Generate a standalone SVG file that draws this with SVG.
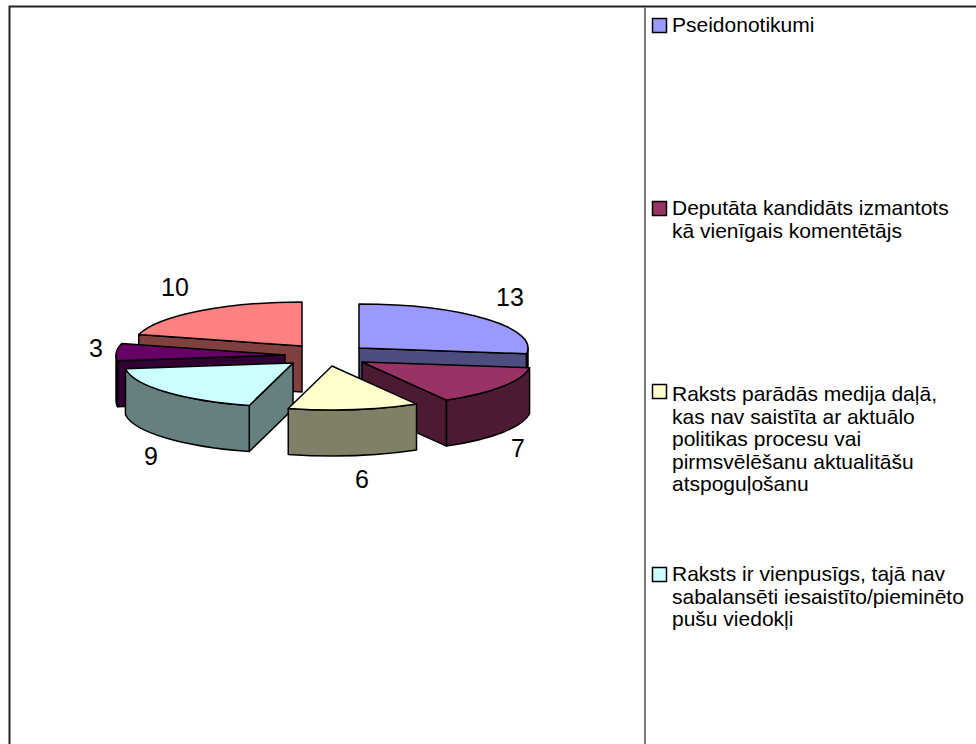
<svg xmlns="http://www.w3.org/2000/svg" width="976" height="744" viewBox="0 0 976 744">
<style>
  .edge{stroke:#000;stroke-width:1.5;stroke-linejoin:round}
  .lbl{font-family:"Liberation Sans",Arial,sans-serif;font-size:25px;fill:#000}
  .leg{font-family:"Liberation Sans",Arial,sans-serif;font-size:21px;fill:#000}
  .sw{stroke:#000;stroke-width:1.5}
</style>
<rect x="0" y="0" width="976" height="744" fill="#fff"/>
<g id="frame">
  <path d="M9.5,744 L9.5,6.5 L976,6.5" fill="none" stroke="#222" stroke-width="2"/>
  <line x1="645" y1="7" x2="645" y2="744" stroke="#777" stroke-width="2"/>
</g>
<g id="pie">
  <g id="slice-salmon">
    <path class="edge" fill="#804040" d="M302,346 L138.76,334.61 L138.76,380.61 L302,392 Z"/>
    <path class="edge" fill="#FF8080" d="M302,346 L138.76,334.61 A169,44 0 0 1 302,302 Z"/>
  </g>
  <g id="slice-blue">
    <path class="edge" fill="#4D4D80" d="M359,348 L526.55,353.74 L526.55,399.74 L359,394 Z"/>
    <path class="edge" fill="#4D4D80" d="M528,348 A169,44 0 0 1 526.55,353.74 L526.55,399.74 A169,44 0 0 0 528,394 Z"/>
    <path class="edge" fill="#9999FF" d="M359,348 L359,304 A169,44 0 0 1 526.55,353.74 Z"/>
  </g>
  <g id="slice-purple">
    <path class="edge" fill="#330033" d="M285,355 L117.45,360.74 L117.45,406.74 L285,401 Z"/>
    <path class="edge" fill="#330033" d="M117.45,360.74 A169,44 0 0 1 116,355 L116,401 A169,44 0 0 0 117.45,406.74 Z"/>
    <path class="edge" fill="#660066" d="M285,355 L117.45,360.74 A169,44 0 0 1 121.76,343.61 Z"/>
  </g>
  <g id="slice-cyan">
    <path class="edge" fill="#668080" d="M293,363 L249.26,405.5 L249.26,451.5 L293,409 Z"/>
    <path class="edge" fill="#668080" d="M249.26,405.5 A169,44 0 0 1 125.45,368.74 L125.45,414.74 A169,44 0 0 0 249.26,451.5 Z"/>
    <path class="edge" fill="#CCFFFF" d="M293,363 L249.26,405.5 A169,44 0 0 1 125.45,368.74 Z"/>
  </g>
  <g id="slice-maroon">
    <path class="edge" fill="#4D1A33" d="M362,362 L446.5,400.11 L446.5,446.11 L362,408 Z"/>
    <path class="edge" fill="#4D1A33" d="M529.55,367.74 A169,44 0 0 1 446.5,400.11 L446.5,446.11 A169,44 0 0 0 529.55,413.74 Z"/>
    <path class="edge" fill="#993366" d="M362,362 L529.55,367.74 A169,44 0 0 1 446.5,400.11 Z"/>
  </g>
  <g id="slice-yellow">
    <path class="edge" fill="#808066" d="M416.5,404.11 A169,44 0 0 1 288.26,408.5 L288.26,454.5 A169,44 0 0 0 416.5,450.11 Z"/>
    <path class="edge" fill="#FFFFCC" d="M332,366 L416.5,404.11 A169,44 0 0 1 288.26,408.5 Z"/>
  </g>
</g>
<g id="labels">
  <text class="lbl" x="496" y="306">13</text>
  <text class="lbl" x="511" y="457">7</text>
  <text class="lbl" x="355" y="488">6</text>
  <text class="lbl" x="144" y="465">9</text>
  <text class="lbl" x="89" y="357">3</text>
  <text class="lbl" x="161" y="296">10</text>
</g>
<g id="legend">
  <g id="leg1">
    <rect class="sw" x="652.5" y="18.5" width="14" height="14" fill="#9999FF"/>
    <text class="leg" x="672" y="32">Pseidonotikumi</text>
  </g>
  <g id="leg2">
    <rect class="sw" x="652.5" y="201.5" width="14" height="14" fill="#993366"/>
    <text class="leg" x="672" y="215">Deputāta kandidāts izmantots</text>
    <text class="leg" x="672" y="238">kā vienīgais komentētājs</text>
  </g>
  <g id="leg3">
    <rect class="sw" x="652.5" y="384.5" width="14" height="14" fill="#FFFFCC"/>
    <text class="leg" x="672" y="401">Raksts parādās medija daļā,</text>
    <text class="leg" x="672" y="423.5">kas nav saistīta ar aktuālo</text>
    <text class="leg" x="672" y="446">politikas procesu vai</text>
    <text class="leg" x="672" y="468.5">pirmsvēlēšanu aktualitāšu</text>
    <text class="leg" x="672" y="491">atspoguļošanu</text>
  </g>
  <g id="leg4">
    <rect class="sw" x="652.5" y="567.5" width="14" height="14" fill="#CCFFFF"/>
    <text class="leg" x="672" y="581">Raksts ir vienpusīgs, tajā nav</text>
    <text class="leg" x="672" y="603.5">sabalansēti iesaistīto/pieminēto</text>
    <text class="leg" x="672" y="626">pušu viedokļi</text>
  </g>
</g>
</svg>
